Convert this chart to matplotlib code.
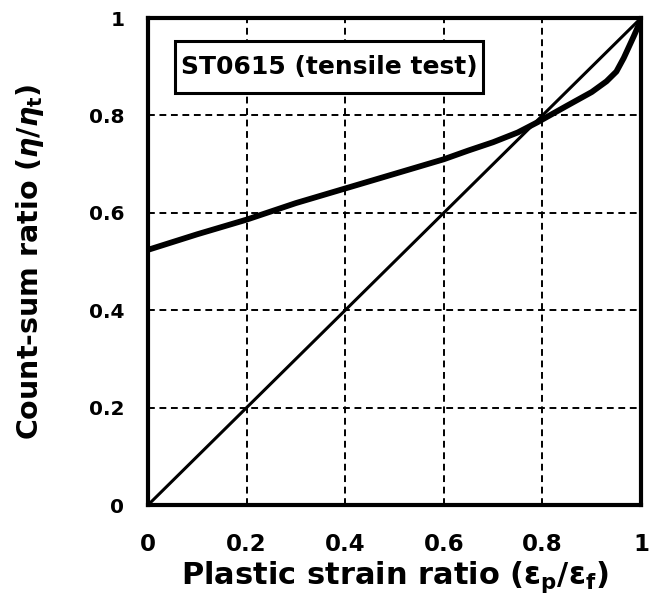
import matplotlib
matplotlib.use("Agg")
import matplotlib.pyplot as plt
from matplotlib.patches import Rectangle

# Data
strain_ratio = [0.0, 0.05, 0.1, 0.15, 0.2, 0.3, 0.4, 0.5, 0.6, 0.65, 0.7, 0.75, 0.79,
                0.85, 0.9, 0.93, 0.95, 0.965, 0.975, 0.985, 0.995, 1.0]
count_ratio = [0.524, 0.540, 0.556, 0.571, 0.586, 0.620, 0.650, 0.680, 0.710, 0.728,
               0.745, 0.765, 0.786, 0.820, 0.848, 0.870, 0.890, 0.918, 0.940, 0.962,
               0.985, 1.0]
diag_x = [0.0, 1.0]
diag_y = [0.0, 1.0]
ticks = [0, 0.2, 0.4, 0.6, 0.8, 1]
tick_labels = ["0", "0.2", "0.4", "0.6", "0.8", "1"]

plt.rcParams['font.family'] = ['DejaVu Sans']
plt.rcParams['font.weight'] = 'bold'
plt.rcParams['mathtext.fontset'] = 'custom'
plt.rcParams['mathtext.rm'] = 'DejaVu Sans:bold'
plt.rcParams['mathtext.it'] = 'DejaVu Sans:bold:italic'
plt.rcParams['mathtext.bf'] = 'DejaVu Sans:bold'

fig = plt.figure(figsize=(6.5, 6.03), dpi=100)
ax = fig.add_axes([0.2277, 0.1625, 0.7585, 0.8076])

ax.plot(diag_x, diag_y, color='black', lw=2.2)
ax.plot(strain_ratio, count_ratio, color='black', lw=4.2, solid_capstyle='round',
        solid_joinstyle='round')

ax.set_xlim(0, 1)
ax.set_ylim(0, 1)
ax.set_xticks(ticks)
ax.set_yticks(ticks)
ax.set_xticklabels(tick_labels, fontweight='bold', fontsize=16.5)
ax.set_yticklabels(tick_labels, fontweight='bold', fontsize=14.5)
ax.tick_params(axis='x', length=0, pad=20)
ax.tick_params(axis='y', length=0, pad=17)
ax.grid(True, color='black', linestyle=(0, (3.5, 2.4)), lw=1.4)

for s in ax.spines.values():
    s.set_linewidth(3)

ax.set_xlabel(r'Plastic strain ratio ($\mathrm{\varepsilon_p/\varepsilon_f}$)',
              fontsize=22, fontweight='bold', va='center')
ax.xaxis.set_label_coords(0.5, -0.148)
ax.set_ylabel(r'Count-sum ratio ($\eta/\eta_\mathrm{t}$)', fontsize=20.5,
              fontweight='bold', va='center')
ax.yaxis.set_label_coords(-0.239, 0.5)

# annotation box
ax.add_patch(Rectangle((0.055, 0.846), 0.625, 0.107, transform=ax.transAxes,
                       facecolor='white', edgecolor='black', lw=2.2, zorder=3))
ax.text(0.367, 0.899, 'ST0615 (tensile test)', transform=ax.transAxes,
        ha='center', va='center', fontsize=18, fontweight='bold', zorder=4)

fig.savefig('out.png', dpi=100)
